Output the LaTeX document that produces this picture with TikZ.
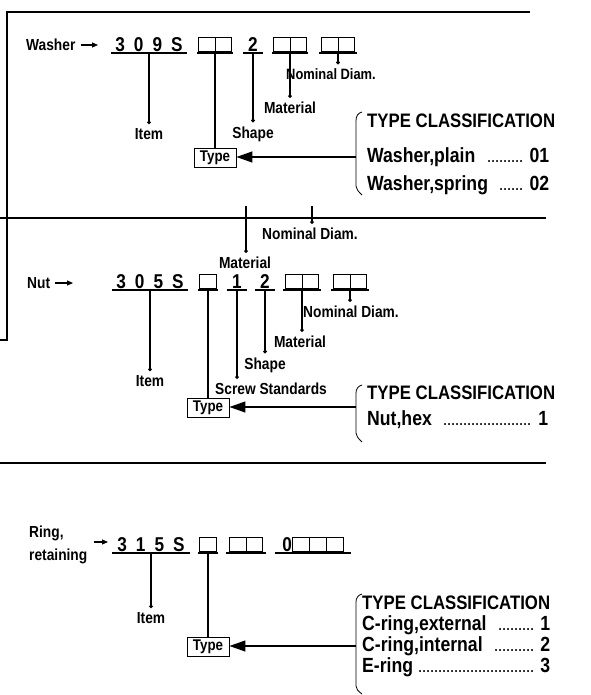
\documentclass[tikz,border=0pt]{standalone}
\usepackage{fontspec}
\setmainfont{Liberation Sans}[FakeStretch=0.86]
\usetikzlibrary{arrows.meta,calc}
\newcommand\ebx{{\fboxsep=0pt\fboxrule=0.9pt\fbox{\rule{0pt}{13.5pt}\rule{16pt}{0pt}}}}
\newcommand\bxx{\ebx\kern-0.9pt\ebx}
\newcommand\csep{\hspace{9pt}}
\newcommand\dfill{\leaders\hbox to 4pt{\hss\fontsize{13pt}{13pt}\selectfont\bfseries.\hss}\hfill}
\tikzset{
  lbl/.style={font=\fontsize{16pt}{17pt}\selectfont\bfseries, inner sep=0pt},
  code/.style={font=\fontsize{20pt}{20pt}\selectfont\bfseries},
  uline/.style={line width=1.1pt},
  field/.style={inner sep=0pt, minimum height=17pt, anchor=south,
    append after command={(\tikzlastnode.south west) edge[uline] (\tikzlastnode.south east)}},
  conn/.style={line width=1.2pt, -{Circle[length=3.6pt]}},
  plainconn/.style={line width=1.2pt},
  typebox/.style={draw, line width=0.9pt, inner sep=0pt, minimum width=42pt, minimum height=19pt,
    font=\fontsize{15.5pt}{16pt}\selectfont\bfseries},
  bigarrow/.style={line width=1.3pt, -{Triangle[length=16pt,width=11pt]}},
  smallarrow/.style={line width=1.1pt, -{Triangle[length=6pt,width=5pt]}},
  bracepath/.style={line width=0.8pt},
  seprule/.style={line width=1.4pt},
  cls/.style={font=\fontsize{19.5pt}{20pt}\selectfont\bfseries, inner sep=0pt, anchor=west},
  ent/.style={font=\fontsize{20.5pt}{21pt}\selectfont\bfseries, inner sep=0pt, anchor=west},
}
\begin{document}
\begin{tikzpicture}[x=1pt,y=-1pt]
\useasboundingbox (0,0) rectangle (590,695);
% frame
\draw[seprule] (0,340) -- (7,340) -- (7,12) -- (530,12);

% ---------------- Washer ----------------
\node[lbl, anchor=west] (washer) at (26,45) {Washer};
\coordinate (washerA) at (98,45);
\draw[smallarrow, shorten <=5pt] (washer) -- (washerA);

\node[field, code, minimum width=76pt] (w309) at (149,53) {3\csep 0\csep 9\csep S};
\node[field, minimum width=36pt] (wf1) at (215,53) {\bxx};
\node[field, code, minimum width=20pt] (wf2) at (253,53) {2};
\node[field, minimum width=36pt] (wf3) at (290,53) {\bxx};
\node[field, minimum width=37pt] (wf4) at (338,53) {\bxx};

\node[lbl] (wItem) at (149,134) {Item};
\node[lbl] (wShape) at (253,134) {Shape};
\node[lbl] (wMat) at (290,108) {Material};
\node[lbl, font=\fontsize{15pt}{16pt}\selectfont\bfseries] (wNom) at (331,74) {Nominal Diam.};
\node[typebox] (wType) at (215,158) {Type};

\draw[conn] (w309.south) -- ($(w309.south |- wItem.north)+(0,-4)$);
\draw[plainconn] (wf1.south) -- (wType.north);
\draw[conn] (wf2.south) -- ($(wf2.south |- wShape.north)+(0,-4)$);
\draw[conn] (wf3.south) -- ($(wf3.south |- wMat.north)+(0,-4)$);
\draw[conn] (wf4.south) -- ($(wf4.south |- wNom.north)+(0,-4)$);

\draw[bracepath] (362,112) .. controls (358,113) and (356,116) .. (356,121) -- (356,186) .. controls (356,189) and (358,191) .. (362,195);
\coordinate (wB) at (356,157);
\draw[bigarrow] (wB) -- (wB -| wType.east);

\node[cls] (wTC) at (367,121) {TYPE CLASSIFICATION};
\node[ent] (wE1) at (367,157) {\makebox[182pt][l]{Washer,plain\hspace{9pt}\dfill\hspace{4pt}01}};
\node[ent] (wE2) at (367,185) {\makebox[182pt][l]{Washer,spring\hspace{9pt}\dfill\hspace{4pt}02}};

\draw[seprule] (0,218) -- (546,218);

% ticks crossing the rule
\coordinate (t1) at (246,206);
\node[lbl] (nMatTop) at (245,263) {Material};
\draw[conn] (t1) -- ($(t1 |- nMatTop.north)+(0,-4)$);
\coordinate (t2) at (312,206);
\node[lbl] (nNomTop) at (310,234) {Nominal Diam.};
\draw[conn] (t2) -- ($(t2 |- nNomTop.north)+(0,-4)$);

% ---------------- Nut ----------------
\node[lbl, anchor=west] (nut) at (27,283) {Nut};
\coordinate (nutA) at (73,283);
\draw[smallarrow, shorten <=5pt] (nut) -- (nutA);

\node[field, code, minimum width=76pt] (n305) at (150,290) {3\csep 0\csep 5\csep S};
\node[field, minimum width=20pt] (nf1) at (208,290) {\ebx};
\node[field, code, minimum width=20pt] (nf2) at (237,290) {1};
\node[field, code, minimum width=20pt] (nf3) at (265,290) {2};
\node[field, minimum width=37pt] (nf4) at (302,290) {\bxx};
\node[field, minimum width=37pt] (nf5) at (350,290) {\bxx};

\node[lbl] (nItem) at (150,381) {Item};
\node[lbl] (nScrew) at (271,389) {Screw Standards};
\node[lbl] (nShape) at (265,365) {Shape};
\node[lbl] (nMat) at (300,342) {Material};
\node[lbl] (nNom) at (351,312) {Nominal Diam.};
\node[typebox] (nType) at (208,408) {Type};

\draw[conn] (n305.south) -- ($(n305.south |- nItem.north)+(0,-4)$);
\draw[plainconn] (nf1.south) -- (nType.north);
\draw[conn] (nf2.south) -- ($(nf2.south |- nScrew.north)+(0,-4)$);
\draw[conn] (nf3.south) -- ($(nf3.south |- nShape.north)+(0,-4)$);
\draw[conn] (nf4.south) -- ($(nf4.south |- nMat.north)+(0,-4)$);
\draw[conn] (nf5.south) -- ($(nf5.south |- nNom.north)+(0,-4)$);

\draw[bracepath] (362,385) .. controls (358,386) and (356,389) .. (356,393) -- (356,433) .. controls (356,436) and (358,438) .. (362,442);
\coordinate (nB) at (356,407);
\draw[bigarrow] (nB) -- (nB -| nType.east);

\node[cls] (nTC) at (367,393) {TYPE CLASSIFICATION};
\node[ent] (nE1) at (367,420) {\makebox[181pt][l]{Nut,hex\hspace{9pt}\dfill\hspace{5pt}1}};

\draw[seprule] (0,463) -- (546,463);

% ---------------- Ring ----------------
\node[lbl, anchor=west, align=left, font=\fontsize{16pt}{23pt}\selectfont\bfseries] (ring) at (29,545) {Ring,\\retaining};
\coordinate (ringA) at (108,542);
\draw[smallarrow, shorten <=6pt] (ringA -| ring.east) -- (ringA);

\node[field, code, minimum width=77pt] (r315) at (151,553) {3\csep 1\csep 5\csep S};
\node[field, minimum width=20pt] (rf1) at (208,553) {\ebx};
\node[field, minimum width=39pt] (rf2) at (246,553) {\bxx};
\node[field, minimum width=75pt] (rf3) at (313,553) {{\fontsize{20pt}{20pt}\selectfont\bfseries 0}\ebx\kern-0.9pt\ebx\kern-0.9pt\ebx};

\node[lbl] (rItem) at (151,618) {Item};
\node[typebox] (rType) at (208,647) {Type};

\draw[conn] (r315.south) -- ($(r315.south |- rItem.north)+(0,-4)$);
\draw[plainconn] (rf1.south) -- (rType.north);

\draw[bracepath] (362,594) .. controls (358,595) and (356,598) .. (356,602) -- (356,686) .. controls (356,689) and (358,691) .. (362,694);
\coordinate (rB) at (356,646);
\draw[bigarrow] (rB) -- (rB -| rType.east);

\node[cls] (rTC) at (362,603) {TYPE CLASSIFICATION};
\node[ent] (rE1) at (362,625) {\makebox[188pt][l]{C-ring,external\hspace{9pt}\dfill\hspace{5pt}1}};
\node[ent] (rE2) at (362,646) {\makebox[188pt][l]{C-ring,internal\hspace{9pt}\dfill\hspace{5pt}2}};
\node[ent] (rE3) at (362,667) {\makebox[188pt][l]{E-ring\hspace{3pt}\dfill\hspace{3pt}3}};
\end{tikzpicture}
\end{document}
